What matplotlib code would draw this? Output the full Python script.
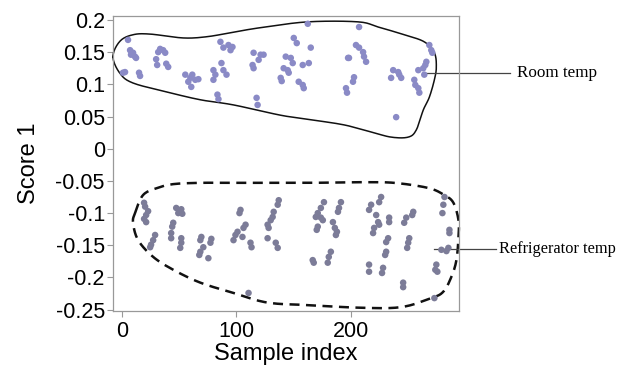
#!/usr/bin/env python
import numpy as np
import matplotlib
matplotlib.use('Agg')
from matplotlib import pyplot as plt

# room temperature samples (upper cluster)
room_x = [5.5, 7.3, 9.9, 11.6, 12.5, 8.1, 2.9, 1.1, 15.1, 16.0,
          33.5, 36.1, 37.9, 31.8, 30.0, 30.9, 38.8, 40.5,
          55.4, 59.8, 64.1, 58.0, 66.8, 61.5, 60.6,
          79.9, 81.6, 79.9, 86.9, 88.6, 91.3, 83.4, 84.3,
          86.0, 88.6, 93.0, 94.8, 96.5,
          162.1, 149.9, 152.5, 164.7,
          114.9, 121.0, 123.6, 119.3, 114.0, 114.9,
          142.9, 147.3, 149.0, 141.1, 144.6, 145.5, 157.7, 163.0,
          138.5, 139.4, 154.2, 157.7, 158.6, 117.5, 118.4,
          195.4, 196.3, 197.2, 206.8, 204.1, 206.8, 210.3, 211.1, 212.9,
          198.0, 202.4, 201.5,
          236.5, 240.9, 241.8, 234.7, 243.5,
          254.9, 255.8, 258.4, 259.3, 258.4, 262.7, 264.5, 265.4, 263.6,
          239.1, 268.0, 269.7, 270.6]
room_y = [0.169, 0.153, 0.149, 0.143, 0.141, 0.146, 0.119, 0.118, 0.118, 0.113,
          0.155, 0.153, 0.149, 0.150, 0.139, 0.130, 0.132, 0.127,
          0.115, 0.110, 0.107, 0.104, 0.108, 0.115, 0.096,
          0.122, 0.115, 0.107, 0.133, 0.122, 0.115, 0.084, 0.077,
          0.166, 0.157, 0.161, 0.153, 0.158,
          0.194, 0.172, 0.164, 0.157,
          0.149, 0.146, 0.146, 0.138, 0.130, 0.125,
          0.143, 0.141, 0.133, 0.125, 0.122, 0.118, 0.130, 0.133,
          0.110, 0.105, 0.104, 0.099, 0.094, 0.079, 0.068,
          0.094, 0.087, 0.141, 0.189, 0.161, 0.157, 0.150, 0.143, 0.135,
          0.141, 0.111, 0.104,
          0.122, 0.119, 0.115, 0.110, 0.110,
          0.107, 0.099, 0.094, 0.087, 0.122, 0.125, 0.130, 0.135, 0.115,
          0.049, 0.161, 0.153, 0.149]

# refrigerator samples (lower cluster)
fridge_x = [19.5, 20.4, 23.0, 21.3, 19.5, 21.3, 29.1, 27.4, 25.6, 24.8,
            47.5, 51.9, 49.3, 52.8, 44.9, 44.0, 43.1, 43.1, 51.9, 51.9, 51.0,
            69.4, 68.5, 78.1, 77.3, 71.1, 68.5, 67.6, 75.5,
            103.5, 102.6, 107.9, 106.1, 100.9, 99.1, 97.4, 105.2, 112.2, 113.1,
            136.8, 135.9, 132.4, 131.5, 129.8, 127.1, 128.0, 127.1, 134.2, 135.9,
            176.2, 173.5, 170.8, 169.1, 173.5, 175.2, 170.8, 169.9, 184.0,
            191.0, 189.3, 188.4, 185.7, 187.5, 186.6,
            182.2, 180.4, 179.5, 166.4, 167.3, 110.5,
            226.0, 224.3, 217.3, 215.5, 221.7, 223.4, 224.3, 219.9, 219.0,
            233.0, 233.0, 254.0, 253.1, 247.9, 246.1,
            232.1, 230.4, 250.5, 249.6, 248.7, 230.4, 229.5,
            215.5, 215.5, 227.7, 226.8, 245.2, 245.2,
            281.2, 280.2, 279.4, 285.5, 285.5, 278.5, 282.9, 284.6,
            274.1, 273.2, 275.0, 272.4]
fridge_y = [-0.084, -0.090, -0.097, -0.103, -0.109, -0.114, -0.134, -0.142, -0.149, -0.153,
            -0.092, -0.094, -0.100, -0.101, -0.115, -0.121, -0.131, -0.139, -0.139, -0.146, -0.154,
            -0.137, -0.142, -0.140, -0.146, -0.153, -0.160, -0.165, -0.170,
            -0.095, -0.100, -0.118, -0.123, -0.129, -0.134, -0.142, -0.137, -0.146, -0.153,
            -0.080, -0.087, -0.098, -0.106, -0.111, -0.118, -0.123, -0.139, -0.146, -0.154,
            -0.083, -0.092, -0.100, -0.106, -0.107, -0.111, -0.121, -0.126, -0.114,
            -0.083, -0.092, -0.098, -0.123, -0.129, -0.134,
            -0.160, -0.168, -0.177, -0.173, -0.177, -0.224,
            -0.075, -0.083, -0.087, -0.095, -0.103, -0.114, -0.118, -0.123, -0.131,
            -0.107, -0.114, -0.098, -0.103, -0.107, -0.115,
            -0.139, -0.145, -0.139, -0.146, -0.154, -0.160, -0.165,
            -0.180, -0.191, -0.185, -0.193, -0.208, -0.215,
            -0.075, -0.087, -0.100, -0.126, -0.131, -0.157, -0.159, -0.154,
            -0.180, -0.188, -0.191, -0.232]

# hand-drawn outlines (anchor points)
room_outline_x = [-7.6, -1.5, 9.9, 24.8, 53.6, 74.6, 97.4, 121.0, 162.1, 205.9, 223.4,
                  246.1, 263.6, 272.4, 274.1, 272.4, 268.0, 262.7, 256.6, 249.6, 234.7,
                  217.3, 193.7, 164.7, 138.5, 97.4, 68.5, 39.6, 9.9, -1.5]
room_outline_y = [0.143, 0.167, 0.177, 0.178, 0.172, 0.174, 0.181, 0.188, 0.197, 0.197, 0.189,
                  0.177, 0.166, 0.149, 0.127, 0.107, 0.080, 0.060, 0.029, 0.018, 0.018,
                  0.026, 0.037, 0.045, 0.052, 0.068, 0.076, 0.088, 0.102, 0.117]
fridge_outline_x = [11.6, 18.6, 30.9, 44.9, 68.5, 97.4, 138.5, 164.7, 208.4, 237.3, 267.1,
                    281.1, 289.0, 293.4, 293.4, 291.6, 287.2, 280.2, 269.7, 243.5, 208.4,
                    164.7, 127.1, 97.4, 68.5, 44.9, 27.4, 14.3, 9.9]
fridge_outline_y = [-0.100, -0.072, -0.061, -0.055, -0.053, -0.053, -0.053, -0.053, -0.052, -0.053, -0.061,
                    -0.072, -0.084, -0.111, -0.137, -0.173, -0.199, -0.222, -0.232, -0.246, -0.247,
                    -0.243, -0.239, -0.224, -0.208, -0.188, -0.168, -0.142, -0.115]


def closed_curve(xs, ys, n=12):
    # closed Catmull-Rom through the anchors, x scaled so both axes count alike
    p = np.column_stack([np.asarray(xs) / 600.0, ys])
    k = len(p)
    out = []
    t = np.linspace(0, 1, n, endpoint=False)[:, None]
    for i in range(k):
        p0, p1, p2, p3 = p[i - 1], p[i], p[(i + 1) % k], p[(i + 2) % k]
        seg = 0.5 * ((2 * p1) + (-p0 + p2) * t + (2 * p0 - 5 * p1 + 4 * p2 - p3) * t ** 2
                     + (-p0 + 3 * p1 - 3 * p2 + p3) * t ** 3)
        out.append(seg)
    out = np.vstack(out + [out[0][:1]])
    return out[:, 0] * 600.0, out[:, 1]


plt.rcParams['font.family'] = 'Liberation Sans'

fig = plt.figure(figsize=(6.18, 3.65), dpi=100)
ax = fig.add_axes([0.183, 0.148, 0.560, 0.808])

ax.scatter(room_x, room_y, s=22, color='#8a8ac6', edgecolors='none', zorder=3)
ax.scatter(fridge_x, fridge_y, s=22, color='#7c7c98', edgecolors='none', zorder=3)

cx, cy = closed_curve(room_outline_x, room_outline_y)
ax.plot(cx, cy, color='#111111', lw=1.1, clip_on=False)
cx, cy = closed_curve(fridge_outline_x, fridge_outline_y)
ax.plot(cx, cy, color='#111111', lw=1.8, ls=(0, (4, 2.6)), clip_on=False)

# labels outside the axes on the right
ax.plot([263.6, 338], [0.118, 0.118], color='#444444', lw=0.9, clip_on=False)
ax.text(344, 0.118, 'Room temp', family='Liberation Serif', fontsize=12.3,
        va='center', ha='left', clip_on=False)
ax.plot([272.4, 326], [-0.156, -0.156], color='#444444', lw=0.9, clip_on=False)
ax.text(328.5, -0.156, 'Refrigerator temp', family='Liberation Serif', fontsize=11.8,
        va='center', ha='left', clip_on=False)

ax.set_xlim(-7.5, 294)
ax.set_ylim(-0.252, 0.206)
ax.set_xticks([0, 100, 200])
ax.set_yticks(np.arange(-0.25, 0.201, 0.05))
ax.set_yticklabels(['-0.25', '-0.2', '-0.15', '-0.1', '-0.05', '0',
                    '0.05', '0.1', '0.15', '0.2'])
ax.tick_params(labelsize=15.5, color='#999999', length=4, width=0.8, pad=2)
ax.tick_params(axis='x', pad=3)
for s in ax.spines.values():
    s.set_color('#999999')
    s.set_linewidth(0.9)

ax.set_xlabel('Sample index', fontsize=17, labelpad=1)
ax.set_ylabel('Score 1', fontsize=17, labelpad=11)

fig.savefig('out.png', dpi=100)
